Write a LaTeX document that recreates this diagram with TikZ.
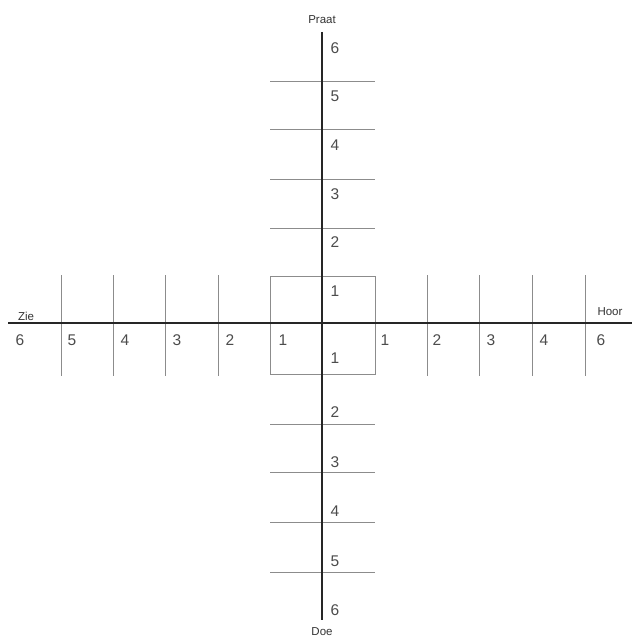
\documentclass[tikz,border=0pt]{standalone}
\usepackage{fontspec}
\setmainfont{Liberation Sans}
\begin{document}
\begin{tikzpicture}[x=1pt,y=-1pt,
  axis/.style={line width=2.8pt,color=black!85},
  tick/.style={line width=0.8pt,color=black!45},
  num/.style={font=\fontsize{15.5}{15.5}\selectfont,color=black!70,inner sep=0pt},
  word/.style={font=\fontsize{11.5}{11.5}\selectfont,color=black!80,inner sep=0pt}]
\useasboundingbox (0,0) rectangle (632,639);
% ticks
\foreach \x in {61,113,165,218,427,479,532,585} \draw[tick] (\x,275) -- (\x,376);
\foreach \y in {81,129,179,228,424,472,522,572} \draw[tick] (270,\y) -- (375,\y);
\draw[tick] (270,276) rectangle (375,374);
% axes
\coordinate (L) at (8,323); \coordinate (R) at (632,323);
\coordinate (T) at (322,32); \coordinate (B) at (322,620);
\draw[axis] (L) -- (R);
\draw[axis] (T) -- (B);
% words
\node[word] (zie) at (26,316) {Zie};
\node[word] (hoor) at (610,312) {Hoor};
\node[word] (praat) at (322,20) {Praat};
\node[word] (doe) at (322,632) {Doe};
% vertical labels
\foreach \n/\y in {6/48,5/96,4/145,3/194,2/242,1/291,1/358,2/412,3/462,4/511,5/561,6/610}
  \node[num] (v\n\y) at (335,\y) {\n};
% horizontal labels
\foreach \n/\x in {6/20,5/72,4/125,3/177,2/230,1/283,1/385,2/437,3/491,4/544,6/601}
  \node[num] (h\n\x) at (\x,340) {\n};
\end{tikzpicture}
\end{document}
